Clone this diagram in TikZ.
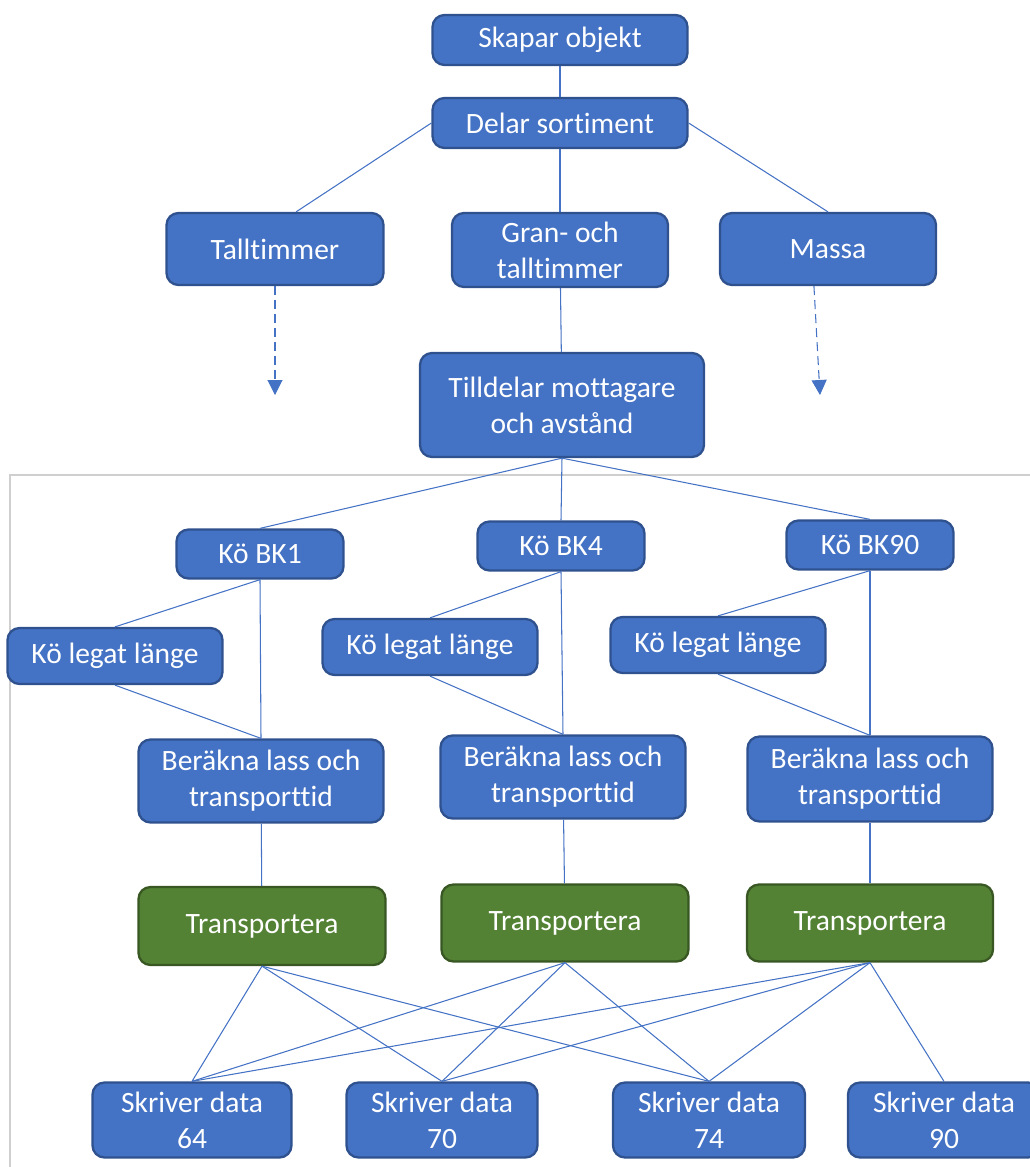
\documentclass[tikz,border=0pt]{standalone}
\usepackage{fontspec}
\setmainfont{Carlito}[Ligatures=NoCommon]
\usepackage{xcolor}
\usetikzlibrary{arrows.meta}
\definecolor{boxblue}{HTML}{4472C4}
\definecolor{boxedge}{HTML}{2F528F}
\definecolor{boxgreen}{HTML}{548235}
\definecolor{greenedge}{HTML}{385723}
\definecolor{framegray}{HTML}{CFCFCF}

\begin{document}
\begin{tikzpicture}[x=0.2mm,y=-0.2mm,>={Triangle[length=3mm,width=3mm]},
  v/.style={draw=boxedge,fill=boxblue,line width=1.3pt,rounded corners=2.4mm,
    text=white,font=\fontsize{16.8}{20.4}\selectfont,align=center,inner sep=0pt},
  g/.style={v,draw=greenedge,fill=boxgreen},
  e/.style={draw=boxblue,line width=0.6pt}]
  \useasboundingbox (0,0) rectangle (1030,1167);
  % frame of the lower part
  \coordinate (fl) at (10,1167);
  \coordinate (fc) at (10,475);
  \coordinate (fr) at (1030,475);
  \draw[framegray,line width=0.6pt] (fl) -- (fc) -- (fr);
  % top
  \node[v,minimum width=51mm,minimum height=10mm] (sk) at (560,40) {Skapar objekt};
  \node[v,minimum width=51mm,minimum height=10mm] (ds) at (560,123) {Delar sortiment};
  \node[v,minimum width=43.4mm,minimum height=14.4mm] (tt) at (275,249) {Talltimmer};
  \node[v,minimum width=43.2mm,minimum height=14.8mm] (gt) at (560,250) {Gran- och\\talltimmer};
  \node[v,minimum width=43.2mm,minimum height=14.4mm] (ms) at (828,249) {Massa};
  \node[v,minimum width=56.8mm,minimum height=20.8mm] (td) at (562,405) {Tilldelar mottagare\\och avstånd};
  \coordinate (ttend) at (275,395);
  \coordinate (msend) at (820,395);
  % queues
  \node[v,minimum width=33.4mm,minimum height=9.8mm] (k1) at (260,554) {Kö BK1};
  \node[v,minimum width=33.4mm,minimum height=9.8mm] (k4) at (561,546) {Kö BK4};
  \node[v,minimum width=33.4mm,minimum height=9.8mm] (k90) at (870,545) {Kö BK90};
  \node[v,minimum width=43mm,minimum height=11.2mm] (l1) at (115,656) {Kö legat länge};
  \node[v,minimum width=43mm,minimum height=11.2mm] (l4) at (430,647) {Kö legat länge};
  \node[v,minimum width=43mm,minimum height=11.2mm] (l90) at (718,645) {Kö legat länge};
  \node[v,minimum width=49mm,minimum height=16.6mm] (b1) at (261,781) {Beräkna lass och\\transporttid};
  \node[v,minimum width=49mm,minimum height=16.6mm] (b4) at (563,777) {Beräkna lass och\\transporttid};
  \node[v,minimum width=49mm,minimum height=17mm] (b90) at (870,779) {Beräkna lass och\\transporttid};
  \node[g,minimum width=49.4mm,minimum height=15.6mm] (t1) at (262,926) {Transportera};
  \node[g,minimum width=49.4mm,minimum height=15.4mm] (t4) at (565,923) {Transportera};
  \node[g,minimum width=49.2mm,minimum height=15.4mm] (t90) at (870,923) {Transportera};
  \node[v,minimum width=39.8mm,minimum height=15mm] (s64) at (192,1120) {Skriver data\\64};
  \node[v,minimum width=38.2mm,minimum height=15mm] (s70) at (442,1120) {Skriver data\\70};
  \node[v,minimum width=38.4mm,minimum height=15mm] (s74) at (709,1120) {Skriver data\\74};
  \node[v,minimum width=38.4mm,minimum height=15mm] (s90) at (944,1120) {Skriver data\\90};
  % connectors
  \draw[e] (sk) -- (ds);
  \draw[e] (ds.west) -- ([xshift=12]tt.north);
  \draw[e] (ds) -- (gt);
  \draw[e] (ds.east) -- (ms.north);
  \draw[e] (gt) -- (td);
  \draw[e,->,dashed,dash pattern=on 1.8mm off 1mm] (tt) -- (ttend);
  \draw[e,->,dashed,dash pattern=on 1.8mm off 1mm] ([xshift=-8]ms.south) -- (msend);
  \draw[e] (td.south) -- (k1.north);
  \draw[e] (td.south) -- (k4.north);
  \draw[e] (td.south) -- (k90.north);
  \foreach \k in {1,4,90} {
    \draw[e] (k\k.south) -- (l\k.north);
    \draw[e] (k\k.south) -- (b\k.north);
    \draw[e] (l\k.south) -- (b\k.north);
    \draw[e] (b\k) -- (t\k);
  }
  \foreach \t in {t1,t4,t90}
    \foreach \s in {s64,s70,s74}
      \draw[e] (\t.south) -- (\s.north);
  \draw[e] (t90.south) -- (s90.north);
\end{tikzpicture}
\end{document}
